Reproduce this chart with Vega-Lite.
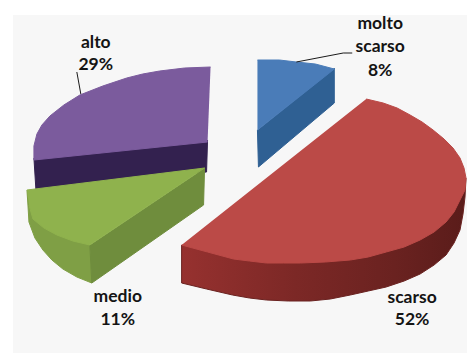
{
  "$schema": "https://vega.github.io/schema/vega-lite/v6.json",
  "width": 468,
  "height": 353,
  "autosize": {"type": "fit", "contains": "padding"},
  "padding": 0,
  "background": "#ffffff",
  "view": {"stroke": null},
  "datasets": {
    "panel": [{"x": 13, "x2": 468, "y": 15, "y2": 353}],
    "outline": [
      {"f":"purple_side","i":0,"x":34,"y":158},{"f":"purple_side","i":1,"x":36,"y":190},{"f":"purple_side","i":2,"x":207,"y":172},{"f":"purple_side","i":3,"x":208,"y":140},

      {"f":"purple_top","i":0,"x":211,"y":67},{"f":"purple_top","i":1,"x":185,"y":68},{"f":"purple_top","i":2,"x":160,"y":71},{"f":"purple_top","i":3,"x":143,"y":74},{"f":"purple_top","i":4,"x":127,"y":78},{"f":"purple_top","i":5,"x":103,"y":86},{"f":"purple_top","i":6,"x":80,"y":95},{"f":"purple_top","i":7,"x":64,"y":105},{"f":"purple_top","i":8,"x":50,"y":116},{"f":"purple_top","i":9,"x":42,"y":125},{"f":"purple_top","i":10,"x":37,"y":134},{"f":"purple_top","i":11,"x":34,"y":146},{"f":"purple_top","i":12,"x":34,"y":160},{"f":"purple_top","i":13,"x":208,"y":142},

      {"f":"green_outer","i":0,"x":27,"y":190},{"f":"green_outer","i":1,"x":28,"y":205},{"f":"green_outer","i":2,"x":29,"y":222},{"f":"green_outer","i":3,"x":35,"y":238},{"f":"green_outer","i":4,"x":43,"y":250},{"f":"green_outer","i":5,"x":52,"y":260},{"f":"green_outer","i":6,"x":63,"y":269},{"f":"green_outer","i":7,"x":77,"y":277},{"f":"green_outer","i":8,"x":92,"y":283},{"f":"green_outer","i":9,"x":90,"y":245},

      {"f":"green_inner","i":0,"x":90,"y":245},{"f":"green_inner","i":1,"x":92,"y":283},{"f":"green_inner","i":2,"x":204,"y":205},{"f":"green_inner","i":3,"x":205,"y":168},

      {"f":"green_top","i":0,"x":27,"y":190},{"f":"green_top","i":1,"x":205,"y":168},{"f":"green_top","i":2,"x":90,"y":245},{"f":"green_top","i":3,"x":73,"y":241},{"f":"green_top","i":4,"x":57,"y":235},{"f":"green_top","i":5,"x":44,"y":228},{"f":"green_top","i":6,"x":33,"y":219},{"f":"green_top","i":7,"x":29,"y":205},

      {"f":"red_side","i":0,"x":182,"y":245},{"f":"red_side","i":1,"x":182,"y":283},{"f":"red_side","i":2,"x":207,"y":289},{"f":"red_side","i":3,"x":233,"y":295},{"f":"red_side","i":4,"x":250,"y":298},{"f":"red_side","i":5,"x":267,"y":300},{"f":"red_side","i":6,"x":289,"y":301},{"f":"red_side","i":7,"x":311,"y":301},{"f":"red_side","i":8,"x":331,"y":299},{"f":"red_side","i":9,"x":351,"y":295},{"f":"red_side","i":10,"x":369,"y":291},{"f":"red_side","i":11,"x":387,"y":287},{"f":"red_side","i":12,"x":405,"y":281},{"f":"red_side","i":13,"x":421,"y":274},{"f":"red_side","i":14,"x":435,"y":265},{"f":"red_side","i":15,"x":447,"y":255},{"f":"red_side","i":16,"x":455,"y":243},{"f":"red_side","i":17,"x":461,"y":230},{"f":"red_side","i":18,"x":464,"y":214},{"f":"red_side","i":19,"x":466,"y":197},{"f":"red_side","i":20,"x":467,"y":178},

      {"f":"red_top","i":0,"x":367,"y":99},{"f":"red_top","i":1,"x":384,"y":103},{"f":"red_top","i":2,"x":398,"y":108},{"f":"red_top","i":3,"x":411,"y":115},{"f":"red_top","i":4,"x":423,"y":122},{"f":"red_top","i":5,"x":434,"y":130},{"f":"red_top","i":6,"x":445,"y":139},{"f":"red_top","i":7,"x":454,"y":148},{"f":"red_top","i":8,"x":461,"y":158},{"f":"red_top","i":9,"x":465,"y":168},{"f":"red_top","i":10,"x":467,"y":178},{"f":"red_top","i":11,"x":466,"y":190},{"f":"red_top","i":12,"x":461,"y":200},{"f":"red_top","i":13,"x":455,"y":212},{"f":"red_top","i":14,"x":447,"y":222},{"f":"red_top","i":15,"x":435,"y":232},{"f":"red_top","i":16,"x":421,"y":240},{"f":"red_top","i":17,"x":405,"y":247},{"f":"red_top","i":18,"x":387,"y":252},{"f":"red_top","i":19,"x":369,"y":257},{"f":"red_top","i":20,"x":351,"y":260},{"f":"red_top","i":21,"x":326,"y":262},{"f":"red_top","i":22,"x":301,"y":263},{"f":"red_top","i":23,"x":284,"y":263},{"f":"red_top","i":24,"x":267,"y":263},{"f":"red_top","i":25,"x":250,"y":261},{"f":"red_top","i":26,"x":234,"y":259},{"f":"red_top","i":27,"x":208,"y":252},{"f":"red_top","i":28,"x":182,"y":245},

      {"f":"blue_side","i":0,"x":258,"y":130},{"f":"blue_side","i":1,"x":259,"y":167},{"f":"blue_side","i":2,"x":335,"y":103},{"f":"blue_side","i":3,"x":335,"y":68},

      {"f":"blue_top","i":0,"x":258,"y":60},{"f":"blue_top","i":1,"x":280,"y":60},{"f":"blue_top","i":2,"x":297,"y":62},{"f":"blue_top","i":3,"x":316,"y":64},{"f":"blue_top","i":4,"x":335,"y":69},{"f":"blue_top","i":5,"x":258,"y":130},

      {"f":"leader_alto","i":0,"x":77,"y":72},{"f":"leader_alto","i":1,"x":81,"y":94},
      {"f":"leader_molto","i":0,"x":297,"y":62},{"f":"leader_molto","i":1,"x":344,"y":53},{"f":"leader_molto","i":2,"x":353,"y":53}
    ],
    "labels": [
      {"text":"alto","x":96,"y":43},{"text":"29%","x":96,"y":65},
      {"text":"molto","x":381,"y":24},{"text":"scarso","x":381,"y":47},{"text":"8%","x":381,"y":71},
      {"text":"medio","x":118,"y":297},{"text":"11%","x":118,"y":320},
      {"text":"scarso","x":413,"y":298},{"text":"52%","x":413,"y":320}
    ]
  },
  "encoding": {
    "x": {"field": "x", "type": "quantitative", "axis": null, "scale": {"domain": [0, 468], "nice": false, "zero": false}},
    "y": {"field": "y", "type": "quantitative", "axis": null, "scale": {"domain": [353, 0], "nice": false, "zero": false}}
  },
  "layer": [
    {
      "data": {"name": "panel"},
      "mark": {"type": "rect", "fill": "#f7f7f7"},
      "encoding": {"x2": {"field": "x2"}, "y2": {"field": "y2"}}
    },
    {
      "data": {"name": "outline"},
      "transform": [{"filter": "datum.f === 'purple_side'"}],
      "mark": {"type": "line", "fill": "#33214f", "stroke": "#33214f", "strokeWidth": 1},
      "encoding": {"order": {"field": "i"}}
    },
    {
      "data": {"name": "outline"},
      "transform": [{"filter": "datum.f === 'purple_top'"}],
      "mark": {"type": "line", "fill": "#7b5b9d", "stroke": "#7b5b9d", "strokeWidth": 1},
      "encoding": {"order": {"field": "i"}}
    },
    {
      "data": {"name": "outline"},
      "transform": [{"filter": "datum.f === 'green_outer'"}],
      "mark": {"type": "line", "fill": "#7f9f45", "stroke": "#7f9f45", "strokeWidth": 1},
      "encoding": {"order": {"field": "i"}}
    },
    {
      "data": {"name": "outline"},
      "transform": [{"filter": "datum.f === 'green_inner'"}],
      "mark": {"type": "line", "fill": "#6f8d3d", "stroke": "#6f8d3d", "strokeWidth": 1},
      "encoding": {"order": {"field": "i"}}
    },
    {
      "data": {"name": "outline"},
      "transform": [{"filter": "datum.f === 'green_top'"}],
      "mark": {"type": "line", "fill": "#8fb24d", "stroke": "#8fb24d", "strokeWidth": 1},
      "encoding": {"order": {"field": "i"}}
    },
    {
      "data": {"name": "outline"},
      "transform": [{"filter": "datum.f === 'red_side'"}],
      "mark": {
        "type": "line",
        "stroke": "#6a2220",
        "strokeWidth": 1,
        "fill": {
          "gradient": "linear", "x1": 0, "x2": 1, "y1": 0, "y2": 0,
          "stops": [
            {"offset": 0, "color": "#96312f"},
            {"offset": 0.4, "color": "#7c2826"},
            {"offset": 0.75, "color": "#6a2220"},
            {"offset": 1, "color": "#5a1c1a"}
          ]
        }
      },
      "encoding": {"order": {"field": "i"}}
    },
    {
      "data": {"name": "outline"},
      "transform": [{"filter": "datum.f === 'red_top'"}],
      "mark": {"type": "line", "fill": "#bb4a47", "stroke": "#bb4a47", "strokeWidth": 1},
      "encoding": {"order": {"field": "i"}}
    },
    {
      "data": {"name": "outline"},
      "transform": [{"filter": "datum.f === 'blue_side'"}],
      "mark": {"type": "line", "fill": "#2f6093", "stroke": "#2f6093", "strokeWidth": 1},
      "encoding": {"order": {"field": "i"}}
    },
    {
      "data": {"name": "outline"},
      "transform": [{"filter": "datum.f === 'blue_top'"}],
      "mark": {"type": "line", "fill": "#4a7cb8", "stroke": "#4a7cb8", "strokeWidth": 1},
      "encoding": {"order": {"field": "i"}}
    },
    {
      "data": {"name": "outline"},
      "transform": [{"filter": "datum.f === 'leader_alto'"}],
      "mark": {"type": "line", "stroke": "#1a1a1a", "strokeWidth": 1},
      "encoding": {"order": {"field": "i"}}
    },
    {
      "data": {"name": "outline"},
      "transform": [{"filter": "datum.f === 'leader_molto'"}],
      "mark": {"type": "line", "stroke": "#1a1a1a", "strokeWidth": 1},
      "encoding": {"order": {"field": "i"}}
    },
    {
      "data": {"name": "labels"},
      "mark": {"type": "text", "font": "Lato", "fontWeight": "bold", "fontSize": 17.5, "color": "#141414", "align": "center", "baseline": "middle"},
      "encoding": {"text": {"field": "text"}}
    }
  ]
}
